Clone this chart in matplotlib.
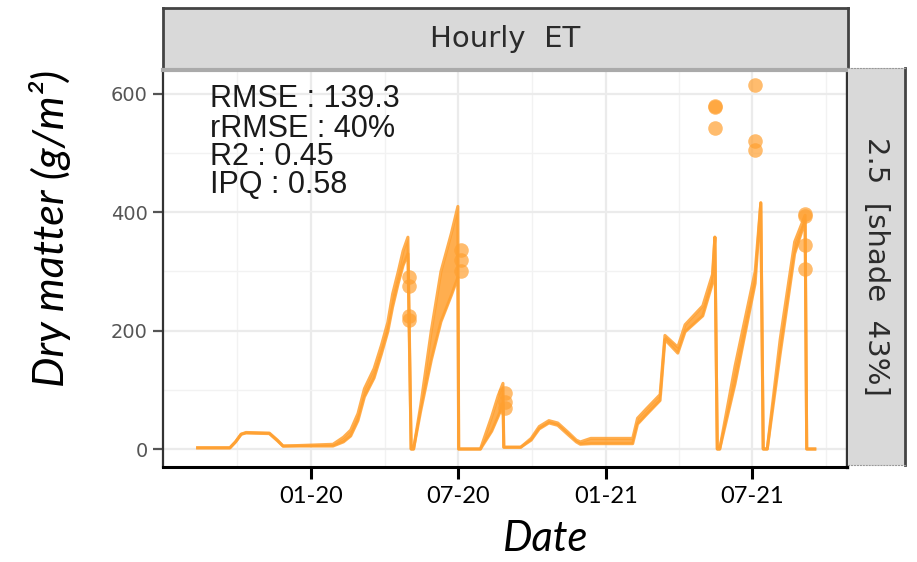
import matplotlib
matplotlib.use("Agg")
import matplotlib.pyplot as plt
import matplotlib.dates as mdates
import pandas as pd

# simulated dry matter (lower / upper envelope of the hourly runs)
sim_dates = ["2019-08-13", "2019-09-22", "2019-09-29", "2019-10-06", "2019-10-12",
             "2019-11-10", "2019-11-20", "2019-11-27", "2020-01-28", "2020-02-10",
             "2020-02-19", "2020-02-28", "2020-03-07", "2020-03-19", "2020-03-28",
             "2020-04-05", "2020-04-11", "2020-04-18", "2020-04-24", "2020-04-30",
             "2020-05-04", "2020-05-07", "2020-05-16", "2020-05-29", "2020-06-10",
             "2020-06-23", "2020-07-01", "2020-07-02", "2020-07-29", "2020-08-12",
             "2020-08-20", "2020-08-26", "2020-08-27", "2020-09-17", "2020-09-30",
             "2020-10-10", "2020-10-22", "2020-11-02", "2020-11-15", "2020-11-25",
             "2020-11-30", "2020-12-13", "2021-02-03", "2021-02-09", "2021-02-20",
             "2021-03-09", "2021-03-15", "2021-03-31", "2021-04-09", "2021-05-01",
             "2021-05-13", "2021-05-16", "2021-05-19", "2021-05-22", "2021-06-10",
             "2021-07-05", "2021-07-12", "2021-07-15", "2021-07-20", "2021-08-05",
             "2021-08-23", "2021-09-05", "2021-09-07", "2021-09-17"]
sim_lo = [2, 2, 12, 25, 27,
          26, 14, 5, 5, 12,
          22, 48, 88, 120, 160,
          198, 240, 280, 310, 330,
          0, 0, 65, 150, 215,
          260, 290, 0, 0, 30,
          55, 75, 3, 3, 15,
          34, 44, 40, 24, 12,
          8, 9, 9, 42, 58,
          82, 185, 162, 198, 225,
          280, 358, 0, 0, 110,
          280, 416, 0, 0, 160,
          330, 385, 0, 0]
sim_hi = [2, 2, 12, 25, 28,
          27, 15, 5, 8, 20,
          32, 60, 102, 136, 175,
          214, 262, 300, 335, 358,
          0, 0, 75, 200, 300,
          365, 410, 0, 0, 55,
          90, 111, 3, 3, 18,
          38, 48, 44, 28, 15,
          12, 18, 18, 52, 68,
          92, 192, 172, 210, 242,
          295, 358, 0, 0, 140,
          300, 416, 0, 0, 185,
          350, 395, 0, 0]

# field measurements
obs_dates = ["2020-05-01", "2020-05-01", "2020-05-01", "2020-05-01",
             "2020-07-05", "2020-07-05", "2020-07-05",
             "2020-08-29", "2020-08-29", "2020-08-29",
             "2021-05-16", "2021-05-16", "2021-05-16",
             "2021-07-05", "2021-07-05", "2021-07-05",
             "2021-09-05", "2021-09-05", "2021-09-05", "2021-09-05"]
obs_vals = [290, 275, 225, 218,
            337, 320, 300,
            95, 80, 70,
            580, 578, 543,
            615, 520, 505,
            397, 394, 345, 305]

stats_lines = ["RMSE : 139.3", "rRMSE : 40%", "R2 : 0.45", "IPQ : 0.58"]
x_ticks = ["2020-01-01", "2020-07-01", "2021-01-01", "2021-07-01"]
y_ticks = [0, 200, 400, 600]

W, H = 917, 562
orange = "#ffa030"


def box(l, t, r, b):
    return [l / W, 1 - b / H, (r - l) / W, (b - t) / H]


fig = plt.figure(figsize=(W / 100, H / 100), dpi=100)
ax = fig.add_axes(box(163, 70, 847, 467))

sd = pd.to_datetime(sim_dates)
ax.fill_between(sd, sim_lo, sim_hi, color=orange, alpha=0.85, lw=0, zorder=3)
ax.plot(sd, sim_lo, color=orange, lw=2.2, alpha=0.85, zorder=3)
ax.plot(sd, sim_hi, color=orange, lw=2.2, alpha=0.85, zorder=3)
ax.scatter(pd.to_datetime(obs_dates), obs_vals, s=110, color=orange,
           alpha=0.7, lw=0, zorder=4)

ax.set_xlim(pd.Timestamp("2019-07-01"), pd.Timestamp("2021-10-27"))
ax.set_ylim(-30.4, 640.5)

ax.set_xticks(pd.to_datetime(x_ticks))
ax.xaxis.set_major_formatter(mdates.DateFormatter("%m-%y"))
ax.set_xticks(pd.to_datetime(["2019-10-01", "2020-04-01", "2020-10-01",
                              "2021-04-01", "2021-10-01"]), minor=True)
ax.set_yticks(y_ticks)
ax.set_yticks([100, 300, 500], minor=True)

ax.grid(True, which="major", color="#ebebeb", lw=1.6, zorder=0)
ax.grid(True, which="minor", color="#f2f2f2", lw=1.0, zorder=0)
ax.set_axisbelow(True)

ax.tick_params(axis="x", which="major", length=8.5, width=2.2, color="black",
               labelsize=17, pad=5)
ax.tick_params(axis="y", which="major", length=7, width=1.6, color="#555555",
               labelsize=14, labelcolor="#555555", pad=4)
ax.tick_params(which="minor", length=0)
for lab in ax.get_xticklabels():
    lab.set_fontfamily("Lato")
for lab in ax.get_yticklabels():
    lab.set_fontfamily("DejaVu Sans")

ax.spines["top"].set_visible(False)
ax.spines["left"].set_color("#333333")
ax.spines["left"].set_linewidth(1.6)
ax.spines["right"].set_color("#333333")
ax.spines["right"].set_linewidth(2.4)
ax.spines["bottom"].set_color("black")
ax.spines["bottom"].set_linewidth(2.2)

# metrics block
baselines = [107, 137, 165, 193]
for line, yb in zip(stats_lines, baselines):
    fig.text(210 / W, 1 - yb / H, line, fontsize=22, family="Liberation Sans",
             color="#1a1a1a", va="baseline", ha="left")

# facet strips
top = fig.add_axes(box(163, 8, 848, 70))
top.set_facecolor("#d9d9d9")
top.set_xticks([])
top.set_yticks([])
for side in ["top", "left", "right"]:
    top.spines[side].set_color("#444444")
    top.spines[side].set_linewidth(2)
top.spines["bottom"].set_color("#aaaaaa")
top.spines["bottom"].set_linewidth(3)
top.text(0.5, 0.5, "Hourly  ET", ha="center", va="center", fontsize=21,
         family="Liberation Sans Narrow", color="#2b2b2b")

side_strip = fig.add_axes(box(848, 68, 905, 465))
side_strip.set_facecolor("#d9d9d9")
side_strip.set_xticks([])
side_strip.set_yticks([])
side_strip.spines["right"].set_color("#444444")
side_strip.spines["right"].set_linewidth(2)
side_strip.spines["left"].set_visible(False)
for side in ["top", "bottom"]:
    side_strip.spines[side].set_color("#999999")
    side_strip.spines[side].set_linestyle(":")
side_strip.text(0.5, 0.5, "2.5  [shade  43%]", ha="center", va="center",
                rotation=-90, fontsize=21, family="Liberation Sans Narrow",
                color="#2b2b2b")

# axis titles
fig.text(546 / W, 1 - 539 / H, "Date", ha="center", va="center", fontsize=30,
         family="Lato", style="italic")
fig.text(50 / W, 1 - 228 / H, "Dry matter (g/m²)", ha="center", va="center",
         rotation=90, fontsize=31, family="Lato", style="italic")

fig.savefig("out.png", dpi=100)
